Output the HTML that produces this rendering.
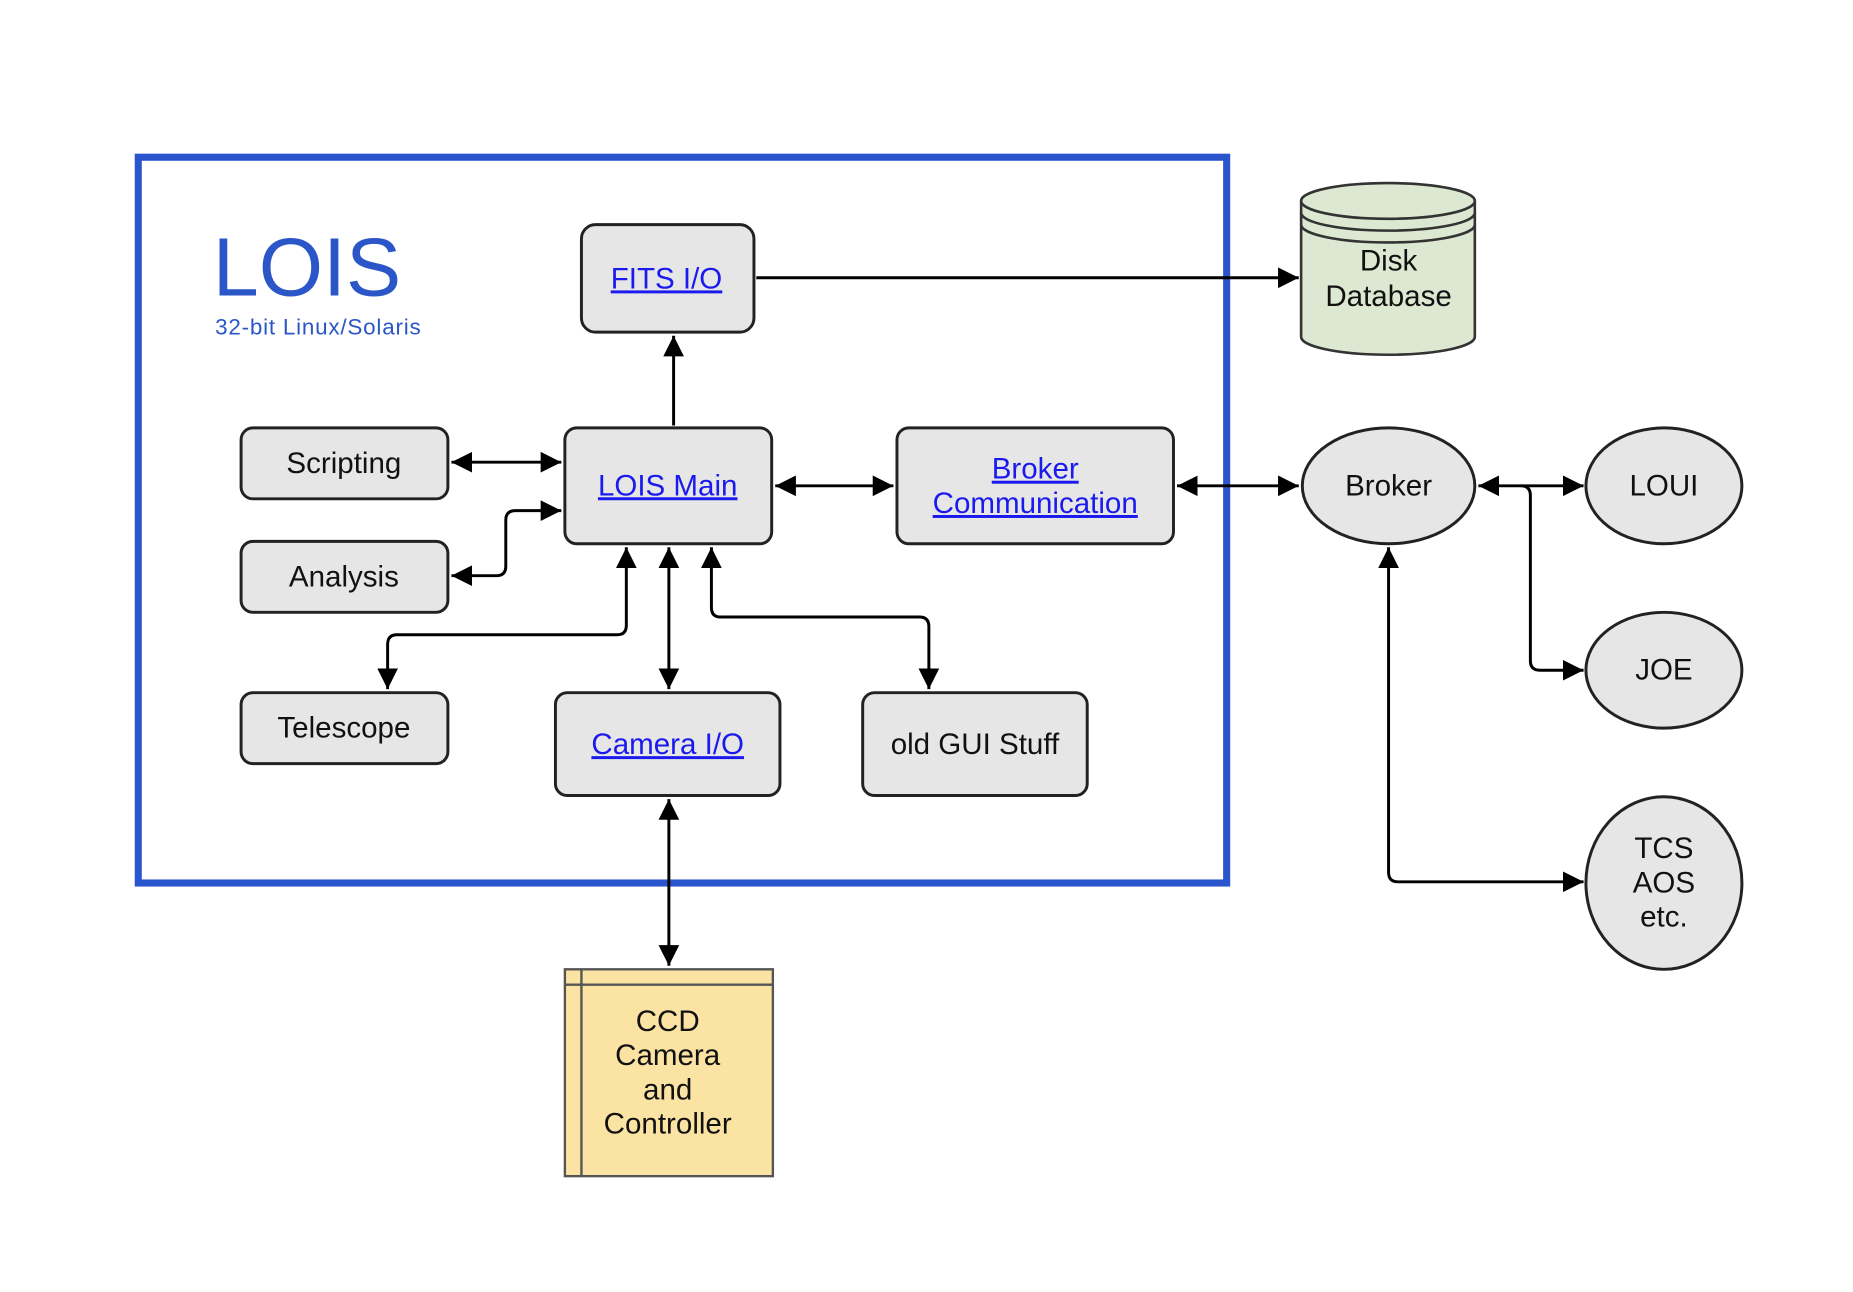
<!DOCTYPE html>
<html><head><style>html,body{margin:0;padding:0;background:#fff;}svg{display:block}</style></head>
<body>
<svg width="1853" height="1292" viewBox="0 0 1568 1093" preserveAspectRatio="none" xmlns="http://www.w3.org/2000/svg" font-family="Liberation Sans, Arial, sans-serif">
<defs>
<marker id="a" viewBox="0 0 10 10" refX="10" refY="5" markerWidth="7" markerHeight="7" orient="auto-start-reverse" markerUnits="strokeWidth"><path d="M0,0 L10,5 L0,10 z" fill="#000"/></marker>
</defs>
<rect x="117" y="133" width="921" height="614" fill="none" stroke="#2a55cc" stroke-width="6"/>
<text x="180" y="250" font-size="70" fill="#2b56c8">LOIS</text>
<text x="182" y="283" font-size="19" fill="#2b56c8" textLength="174">32-bit Linux/Solaris</text>

<g fill="#e6e6e6" stroke="#222" stroke-width="2.5">
<rect x="492" y="190" width="146" height="91" rx="12"/>
<rect x="204" y="362" width="175" height="60" rx="10"/>
<rect x="204" y="458" width="175" height="60" rx="10"/>
<rect x="478" y="362" width="175" height="98" rx="10"/>
<rect x="759" y="362" width="234" height="98" rx="10"/>
<rect x="204" y="586" width="175" height="60" rx="10"/>
<rect x="470" y="586" width="190" height="87" rx="10"/>
<rect x="730" y="586" width="190" height="87" rx="10"/>
<ellipse cx="1175" cy="411" rx="73" ry="49"/>
<ellipse cx="1408" cy="411" rx="66" ry="49"/>
<ellipse cx="1408" cy="567" rx="66" ry="49"/>
<ellipse cx="1408" cy="747" rx="66" ry="73"/>
</g>
<g stroke="#333" stroke-width="2.2" fill="#dde8d2">
<path d="M1101,170 L1101,285 A73,15 0 0 0 1248,285 L1248,170 A73,15 0 0 0 1101,170 Z"/>
<path d="M1101,170 A73,15 0 0 0 1248,170" fill="none"/>
<path d="M1101,180 A73,15 0 0 0 1248,180" fill="none"/>
<path d="M1101,190 A73,15 0 0 0 1248,190" fill="none"/>
</g>
<rect x="478" y="820" width="176" height="175" fill="#fbe3a3" stroke="#555" stroke-width="2"/>
<line x1="492" y1="820" x2="492" y2="995" stroke="#555" stroke-width="2"/>
<line x1="478" y1="833" x2="654" y2="833" stroke="#555" stroke-width="2"/>

<g stroke="#000" stroke-width="2.5" fill="none">
<line x1="640" y1="235" x2="1099" y2="235" marker-end="url(#a)"/>
<line x1="570" y1="360" x2="570" y2="284" marker-end="url(#a)"/>
<line x1="382" y1="391" x2="475" y2="391" marker-start="url(#a)" marker-end="url(#a)"/>
<path d="M382,487 H420 Q428,487 428,479 V440 Q428,432 436,432 H475" marker-start="url(#a)" marker-end="url(#a)"/>
<line x1="656" y1="411" x2="756" y2="411" marker-start="url(#a)" marker-end="url(#a)"/>
<line x1="996" y1="411" x2="1099" y2="411" marker-start="url(#a)" marker-end="url(#a)"/>
<path d="M530,463 V529 Q530,537 522,537 H336 Q328,537 328,545 V583" marker-start="url(#a)" marker-end="url(#a)"/>
<line x1="566" y1="463" x2="566" y2="583" marker-start="url(#a)" marker-end="url(#a)"/>
<path d="M602,463 V514 Q602,522 610,522 H778 Q786,522 786,530 V583" marker-start="url(#a)" marker-end="url(#a)"/>
<line x1="566" y1="676" x2="566" y2="817" marker-start="url(#a)" marker-end="url(#a)"/>
<line x1="1251" y1="411" x2="1340" y2="411" marker-start="url(#a)" marker-end="url(#a)"/>
<path d="M1287,411 Q1295,411 1295,419 V559 Q1295,567 1303,567 H1340" marker-end="url(#a)"/>
<path d="M1175,463 V738 Q1175,746 1183,746 H1340" marker-start="url(#a)" marker-end="url(#a)"/>
</g>

<g font-size="25" text-anchor="middle" fill="#111">
<text x="1175" y="229">Disk</text>
<text x="1175" y="259">Database</text>
<text x="291" y="400">Scripting</text>
<text x="291" y="496">Analysis</text>
<text x="291" y="624">Telescope</text>
<text x="825" y="638">old GUI Stuff</text>
<text x="1175" y="419">Broker</text>
<text x="1408" y="419">LOUI</text>
<text x="1408" y="575">JOE</text>
<text x="1408" y="726">TCS</text>
<text x="1408" y="755">AOS</text>
<text x="1408" y="784">etc.</text>
<text x="565" y="872">CCD</text>
<text x="565" y="901">Camera</text>
<text x="565" y="930">and</text>
<text x="565" y="959">Controller</text>
</g>
<g font-size="25" text-anchor="middle" fill="#1a1aee" text-decoration="underline">
<text x="564" y="244">FITS I/O</text>
<text x="565" y="419">LOIS Main</text>
<text x="876" y="405">Broker</text>
<text x="876" y="434">Communication</text>
<text x="565" y="638">Camera I/O</text>
</g>
</svg>
</body></html>
